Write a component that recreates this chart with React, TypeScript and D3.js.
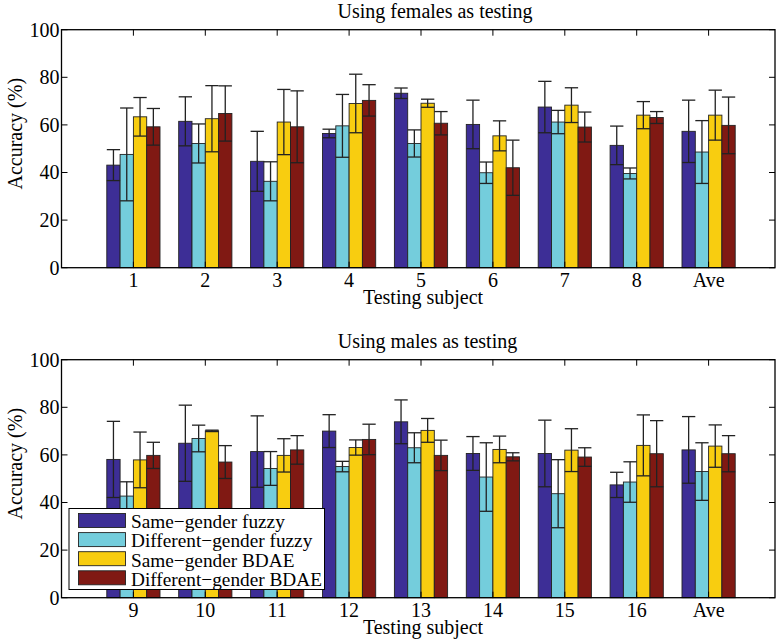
import React from "react";
import * as d3 from "d3";

const categoriesTop = ["1", "2", "3", "4", "5", "6", "7", "8", "Ave"];
const categoriesBottom = ["9", "10", "11", "12", "13", "14", "15", "16", "Ave"];
const seriesNames = [
  "Same\u2212gender fuzzy",
  "Different\u2212gender fuzzy",
  "Same\u2212gender BDAE",
  "Different\u2212gender BDAE",
];
const seriesColors = ["#3d2e96", "#74cddc", "#f8cd10", "#801913"];
const yTicks = [0, 20, 40, 60, 80, 100];

// Females as testing: mean values per series
const femSameFuzzy = [43.1, 61.5, 44.7, 56.4, 73.3, 60.2, 67.5, 51.4, 57.3];
const femDiffFuzzy = [47.6, 52.2, 36.3, 59.6, 52.2, 39.9, 61.2, 39.6, 48.6];
const femSameBDAE = [63.4, 62.6, 61.2, 69.0, 69.1, 55.4, 68.3, 64.1, 64.1];
const femDiffBDAE = [59.2, 64.8, 59.2, 70.3, 60.7, 42.0, 59.1, 63.1, 59.8];
// Females: std errors
const femSameFuzzyErr = [6.5, 10.3, 12.6, 1.8, 2.2, 10.2, 10.8, 8.1, 13.1];
const femDiffFuzzyErr = [19.5, 8.2, 8.2, 13.2, 5.7, 4.5, 4.9, 2.3, 13.2];
const femSameBDAEErr = [8.1, 13.9, 13.7, 12.3, 1.7, 6.3, 7.3, 5.7, 10.5];
const femDiffBDAEErr = [7.7, 11.6, 15.1, 6.6, 4.9, 11.6, 6.3, 2.5, 11.9];

// Males as testing
const maleSameFuzzy = [58.1, 64.9, 61.4, 70.0, 73.9, 60.6, 60.6, 47.4, 62.1];
const maleDiffFuzzy = [42.7, 66.9, 54.3, 55.1, 63.0, 50.7, 43.7, 48.6, 53.0];
const maleSameBDAE = [57.9, 70.1, 59.8, 63.1, 70.3, 62.3, 62.0, 64.0, 63.7];
const maleDiffBDAE = [59.8, 57.0, 62.1, 66.5, 59.8, 59.2, 59.1, 60.5, 60.5];
const maleSameFuzzyErr = [16.0, 16.0, 15.0, 6.9, 9.2, 7.1, 14.0, 5.3, 14.0];
const maleDiffFuzzyErr = [6.0, 5.6, 7.1, 2.2, 6.3, 14.4, 14.3, 8.5, 12.1];
const maleSameBDAEErr = [11.7, 0.3, 7.0, 3.2, 5.0, 5.6, 9.0, 12.8, 8.9];
const maleDiffBDAEErr = [5.5, 6.9, 6.0, 6.4, 6.4, 1.7, 3.9, 13.9, 7.6];

const FONT = "Liberation Serif";
const FS = 20;

type PanelProps = {
  top: number;
  title: string;
  titleCx: number;
  cats: string[];
  values: number[][];
  errs: number[][];
  legend?: boolean;
};

const LEFT = 61.5;
const RIGHT = 775;
const PH = 238;

function Panel({ top, title, titleCx, cats, values, errs, legend }: PanelProps) {
  const x = d3.scaleLinear().domain([0, 1]).range([LEFT, LEFT + 71.9]);
  const y = d3.scaleLinear().domain([0, 100]).range([top + PH, top]);
  const bw = 0.185;
  const bwPx = x(bw) - x(0);
  const tickLen = 6;
  return (
    <g>
      <text x={titleCx} y={top - 11.4} textAnchor="middle" fontSize={FS} fontFamily={FONT}>
        {title}
      </text>
      {/* bars */}
      {values.map((series, s) =>
        series.map((v, i) => {
          const cx = x(i + 1) + (s - 1.5) * bwPx;
          return (
            <rect
              key={`b${s}-${i}`}
              x={cx - bwPx / 2}
              y={y(v)}
              width={bwPx}
              height={y(0) - y(v)}
              fill={seriesColors[s]}
              stroke="#222"
              strokeWidth={0.9}
            />
          );
        })
      )}
      {/* error bars */}
      {values.map((series, s) =>
        series.map((v, i) => {
          const cx = x(i + 1) + (s - 1.5) * bwPx;
          const e = errs[s][i];
          const hi = y(v + e);
          const lo = y(v - e);
          const hw = bwPx / 2;
          return (
            <g key={`e${s}-${i}`} stroke="#222" strokeWidth={1.3}>
              <line x1={cx} x2={cx} y1={hi} y2={lo} />
              <line x1={cx - hw} x2={cx + hw} y1={hi} y2={hi} />
              <line x1={cx - hw} x2={cx + hw} y1={lo} y2={lo} />
            </g>
          );
        })
      )}
      {/* axes box */}
      <rect x={LEFT} y={top} width={RIGHT - LEFT} height={PH} fill="none" stroke="#000" strokeWidth={1.3} />
      {yTicks.map((t) => (
        <g key={`yt${t}`}>
          <line x1={LEFT} x2={LEFT + tickLen} y1={y(t)} y2={y(t)} stroke="#000" strokeWidth={1} />
          <line x1={RIGHT - tickLen} x2={RIGHT} y1={y(t)} y2={y(t)} stroke="#000" strokeWidth={1} />
          <text x={LEFT - 2} y={y(t)} dy="0.34em" textAnchor="end" fontSize={FS} fontFamily={FONT}>
            {t}
          </text>
        </g>
      ))}
      {cats.map((c, i) => (
        <g key={`xt${i}`}>
          <line x1={x(i + 1)} x2={x(i + 1)} y1={top} y2={top + tickLen} stroke="#000" strokeWidth={1} />
          <line x1={x(i + 1)} x2={x(i + 1)} y1={top + PH} y2={top + PH - tickLen} stroke="#000" strokeWidth={1} />
          <text x={x(i + 1)} y={top + PH + 19.3} textAnchor="middle" fontSize={FS} fontFamily={FONT}>
            {c}
          </text>
        </g>
      ))}
      <text x={423} y={top + PH + 35.8} textAnchor="middle" fontSize={FS} fontFamily={FONT}>
        Testing subject
      </text>
      <text
        transform={`translate(${22},${top + 104}) rotate(-90)`}
        textAnchor="middle"
        fontSize={FS}
        fontFamily={FONT}
      >
        Accuracy (%)
      </text>
      {legend && (
        <g>
          <rect x={69} y={508.5} width={255.5} height={81} fill="#fff" stroke="#000" strokeWidth={1} />
          {seriesNames.map((n, s) => (
            <g key={`lg${s}`}>
              <rect x={78.5} y={513.5 + s * 19.1} width={47} height={14} fill={seriesColors[s]} stroke="#222" strokeWidth={0.9} />
              <text x={131} y={513.5 + s * 19.1 + 14.8} fontSize={19.3} fontFamily={FONT}>
                {n}
              </text>
            </g>
          ))}
        </g>
      )}
    </g>
  );
}

export default function App() {
  return (
    <svg
      width={776}
      height={641}
      style={{ position: "absolute", left: 0, top: 0, background: "#fff" }}
    >
      <rect width={776} height={641} fill="#fff" />
      <Panel
        top={29.7}
        title="Using females as testing"
        titleCx={435}
        cats={categoriesTop}
        values={[femSameFuzzy, femDiffFuzzy, femSameBDAE, femDiffBDAE]}
        errs={[femSameFuzzyErr, femDiffFuzzyErr, femSameBDAEErr, femDiffBDAEErr]}
      />
      <Panel
        top={359.7}
        title="Using males as testing"
        titleCx={427.5}
        cats={categoriesBottom}
        values={[maleSameFuzzy, maleDiffFuzzy, maleSameBDAE, maleDiffBDAE]}
        errs={[maleSameFuzzyErr, maleDiffFuzzyErr, maleSameBDAEErr, maleDiffBDAEErr]}
        legend
      />
    </svg>
  );
}
